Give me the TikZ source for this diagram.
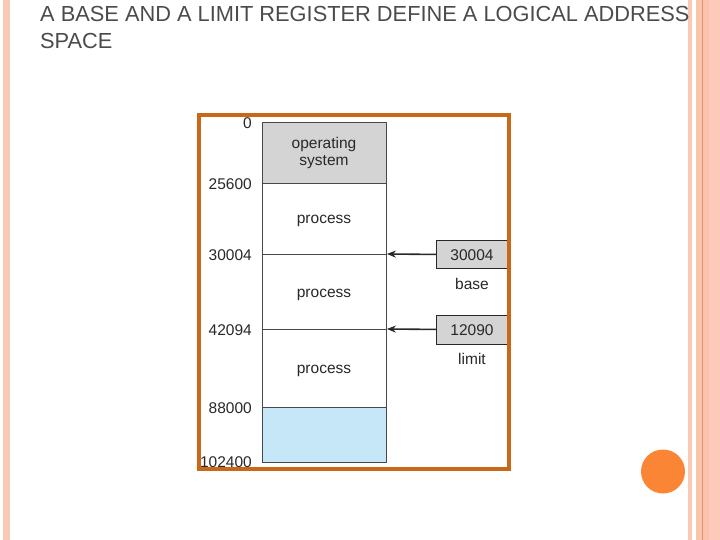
\documentclass[tikz,border=0pt]{standalone}
\usepackage{fontspec}
\setmainfont{Liberation Sans}
\usetikzlibrary{arrows.meta}
\definecolor{stripeA}{RGB}{249,201,181}
\definecolor{stripeB}{RGB}{250,196,172}
\definecolor{stripeC}{RGB}{253,201,184}
\definecolor{stripeD}{RGB}{224,148,106}
\definecolor{frameC}{RGB}{200,105,25}
\definecolor{osgray}{RGB}{212,212,212}
\definecolor{freeblue}{RGB}{198,231,248}
\definecolor{dotC}{RGB}{250,133,52}
\definecolor{titleC}{RGB}{75,75,75}
\definecolor{txtC}{RGB}{40,40,40}
\tikzset{
  seg/.style={draw=txtC!85, line width=0.9bp, inner sep=0pt, minimum width=124bp, anchor=north west},
  lbl/.style={anchor=base, inner sep=0pt, text=txtC, font=\fontsize{15.5bp}{18bp}\selectfont},
  addr/.style={anchor=base east, inner sep=0pt, text=txtC, font=\fontsize{15.5bp}{18bp}\selectfont},
  reg/.style={draw=txtC, line width=0.9bp, fill=osgray, inner sep=0pt, minimum width=72bp, anchor=north west},
  ptr/.style={draw=txtC, line width=1.6bp, -{Stealth[length=9bp,width=7bp]}},
}
\begin{document}
\begin{tikzpicture}[x=1bp,y=-1bp]
\useasboundingbox (0,0) rectangle (720,540);
% side decorations
\fill[stripeA] (3,0) rectangle (10,540);
\fill[stripeA] (688,0) rectangle (692,540);
\fill[stripeB] (696,0) rectangle (709,540);
\fill[stripeC] (709,0) rectangle (720,540);
\fill[stripeD] (701.5,0) rectangle (703,540);
% title
\node[anchor=base west, inner sep=0pt, text=titleC, font=\fontsize{21.8bp}{27bp}\selectfont] (title) at (40,22) {A BASE AND A LIMIT REGISTER DEFINE A LOGICAL ADDRESS};
\node[anchor=base west, inner sep=0pt, text=titleC, font=\fontsize{21.8bp}{27bp}\selectfont] (title2) at (40,48.7) {SPACE};
% memory
\node[seg, fill=osgray, minimum height=61bp] (os) at (262,122) {};
\node[seg, fill=white, minimum height=71bp] (p1) at (262,183) {};
\node[seg, fill=white, minimum height=75bp] (p2) at (262,254) {};
\node[seg, fill=white, minimum height=78bp] (p3) at (262,329) {};
\node[seg, fill=freeblue, minimum height=55bp] (free) at (262,407) {};
\node[lbl] (ostxt1) at (324,148.3) {operating};
\node[lbl] (ostxt2) at (324,165.7) {system};
\node[lbl] (p1txt) at (324,224) {process};
\node[lbl] (p2txt) at (324,297.5) {process};
\node[lbl] (p3txt) at (324,373.3) {process};
% addresses
\node[addr] (a0) at (252,128.3) {0};
\node[addr] (a1) at (252,190) {25600};
\node[addr] (a2) at (252,260.3) {30004};
\node[addr] (a3) at (252,335) {42094};
\node[addr] (a4) at (252,413.3) {88000};
\node[addr] (a5) at (252,467.5) {102400};
% registers
\node[reg, minimum height=28bp] (base) at (436,240) {};
\node[lbl] (basetxt) at (472,260.5) {30004};
\node[lbl] (baselbl) at (472,289) {base};
\node[reg, minimum height=29bp] (limit) at (436,314.5) {};
\node[lbl] (limittxt) at (472,335) {12090};
\node[lbl] (limitlbl) at (472,364) {limit};
\draw[ptr] (base.west) -- (p2.north east);
\draw[ptr] (limit.west) -- (p3.north east);
% frame
\draw[frameC, line width=4bp] (199,115) rectangle (509,469);
% dot
\fill[dotC] (663,471.5) circle (22);
\end{tikzpicture}
\end{document}
